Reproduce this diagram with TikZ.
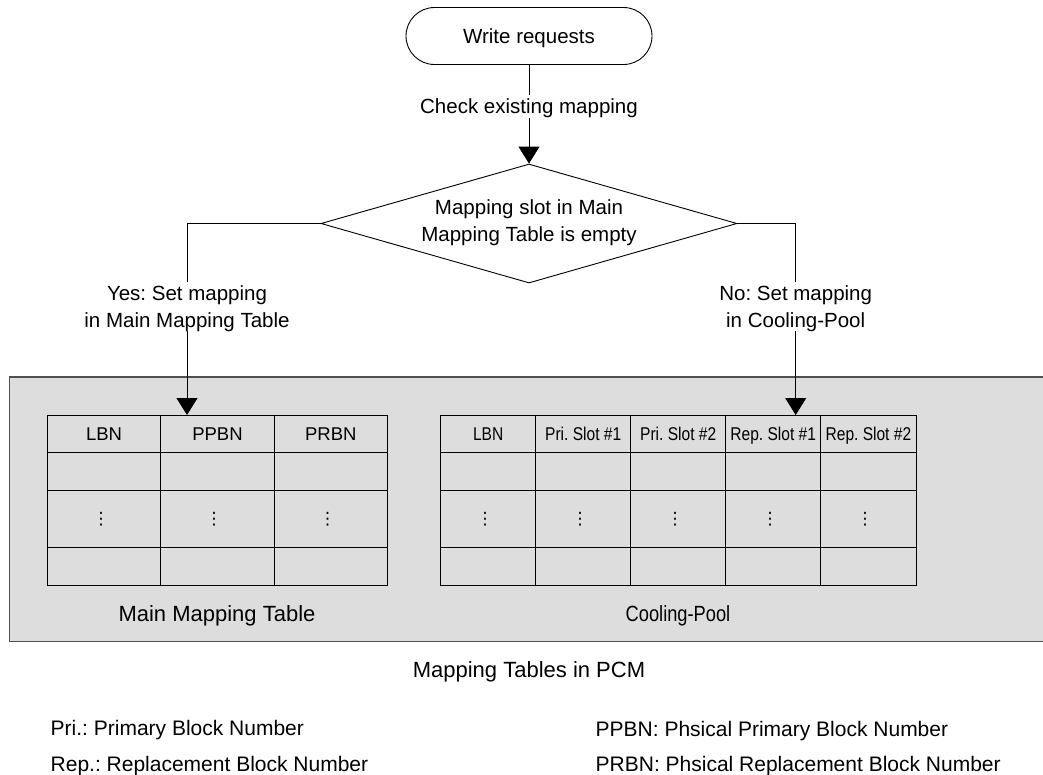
\documentclass[tikz,border=0pt]{standalone}
\usepackage{graphicx}
\usepackage{fontspec}
\setmainfont{Liberation Sans}
\newfontfamily\symfont{DejaVu Sans}
\usetikzlibrary{shapes.geometric,arrows.meta}
\definecolor{poolgray}{RGB}{221,221,221}
\definecolor{pooledge}{RGB}{80,80,80}
\frenchspacing
\begin{document}
\begin{tikzpicture}[x=1pt,y=-1pt,
  txt/.style={font=\fontsize{20.5}{26.7}\selectfont, align=center,
    text height=14.7pt, text depth=0pt, inner sep=4pt},
  twolines/.style={text height=41.4pt},
  hdr/.style={font=\fontsize{18.5}{22}\selectfont, inner sep=0pt,
    text height=13.2pt, text depth=0pt},
  tbltitle/.style={font=\fontsize{22}{26}\selectfont, inner sep=0pt,
    text height=15.8pt, text depth=0pt},
  legend/.style={font=\fontsize{21}{25}\selectfont, inner sep=0pt,
    text height=15pt, text depth=0pt, anchor=west},
  vdot/.style={font=\symfont\fontsize{17}{20}\selectfont, inner sep=0pt},
  shapeline/.style={draw=black, line width=0.9pt},
  flow/.style={draw=black, line width=0.9pt, -{Triangle[length=17pt,width=21pt]}},
  cellgrid/.style={draw=black, line width=0.9pt},
]
\useasboundingbox (0,0) rectangle (1043,774);

% PCM area holding both tables
\fill[poolgray] (9.5,377) rectangle (1043,641.5);
\draw[pooledge, line width=1.2pt] (1043,377) -- (9.5,377) -- (9.5,641.5) -- (1043,641.5);

% flow chart
\node[txt, shapeline, rounded corners=28.5pt, minimum width=246pt, minimum height=57pt]
  (start) at (529,36) {Write requests};
\node[txt, twolines, shapeline, diamond, aspect=3.5, inner sep=0pt, text depth=5.4pt,
  minimum width=416pt, minimum height=119pt]
  (dec) at (529,223.5) {Mapping slot in Main\\Mapping Table is empty};

\draw[flow] (start) -- node[txt, fill=white, pos=0.42] (chk) {Check existing mapping} (dec);

\coordinate (mmtIn) at (187,415);
\coordinate (cpIn) at (795.7,415);
\draw[flow] (dec.west) -| (mmtIn);
\draw[flow] (dec.east) -| (cpIn);
\node[txt, twolines, fill=white] (yes) at (187,306.5) {Yes: Set mapping\\in Main Mapping Table};
\node[txt, twolines, fill=white] (no) at (795.7,306.5) {No: Set mapping\\in Cooling-Pool};

% Main Mapping Table
\draw[cellgrid] (47.3,415) rectangle (387.3,585);
\foreach \x in {160.7,274.3} \draw[cellgrid] (\x,415) -- (\x,585);
\foreach \y in {452.3,490.3,547.3} \draw[cellgrid] (47.3,\y) -- (387.3,\y);
\node[hdr] (mLBN) at (104,433.7) {LBN};
\node[hdr] (mPPBN) at (217.5,433.7) {PPBN};
\node[hdr] (mPRBN) at (330.8,433.7) {PRBN};
\foreach \x/\n in {101/1,214/2,327.5/3} \node[vdot] (mdot\n) at (\x,518.8) {⋮};
\node[tbltitle] (mmtLabel) at (217,613.3) {Main Mapping Table};

% Cooling-Pool
\draw[cellgrid] (440.7,415) rectangle (916,585);
\foreach \x in {535.7,630.7,725.7,820.7} \draw[cellgrid] (\x,415) -- (\x,585);
\foreach \y in {452.3,490.3,547.3} \draw[cellgrid] (440.7,\y) -- (916,\y);
\node[hdr] (cLBN) at (488.2,433.7) {\scalebox{0.84}[1]{LBN}};
\node[hdr] (cPri1) at (583.2,433.7) {\scalebox{0.84}[1]{Pri. Slot \#1}};
\node[hdr] (cPri2) at (678.2,433.7) {\scalebox{0.84}[1]{Pri. Slot \#2}};
\node[hdr] (cRep1) at (773.2,433.7) {\scalebox{0.84}[1]{Rep. Slot \#1}};
\node[hdr] (cRep2) at (868.4,433.7) {\scalebox{0.84}[1]{Rep. Slot \#2}};
\foreach \x/\n in {485/1,580/2,675/3,770/4,865/5} \node[vdot] (cdot\n) at (\x,518.8) {⋮};
\node[tbltitle] (cpLabel) at (678,613.3) {\scalebox{0.83}[1]{Cooling-Pool}};

% caption and abbreviations
\node[tbltitle] (caption) at (529,670) {Mapping Tables in PCM};
\node[legend] (pri) at (50.5,727.5) {Pri.: Primary Block Number};
\node[legend] (rep) at (50.5,764) {Rep.: Replacement Block Number};
\node[legend] (ppbn) at (595.5,729) {PPBN: Phsical Primary Block Number};
\node[legend] (prbn) at (595.5,764) {PRBN: Phsical Replacement Block Number};
\end{tikzpicture}
\end{document}
